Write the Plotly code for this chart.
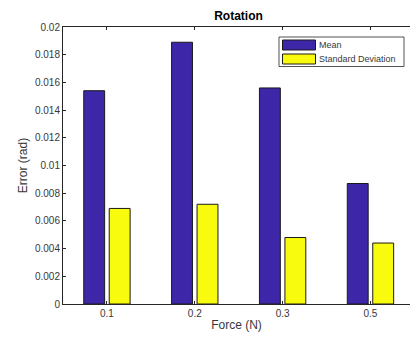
import plotly.graph_objects as go

# Data
forces = ["0.1", "0.2", "0.3", "0.5"]
mean_err = [0.0154, 0.0189, 0.0156, 0.0087]
std_err = [0.0069, 0.0072, 0.0048, 0.0044]
y_ticks = [0, 0.002, 0.004, 0.006, 0.008, 0.01, 0.012, 0.014, 0.016, 0.018, 0.02]
y_tick_text = ["0", "0.002", "0.004", "0.006", "0.008", "0.01", "0.012", "0.014", "0.016", "0.018", "0.02"]
series_names = ["Mean", "Standard Deviation"]

# Style
W, H = 410, 338
ML, MR, MT, MB = 63, 0, 27, 34
MEAN_COLOR = "#3E26A8"
STD_COLOR = "#F9FB0E"
AXIS_COLOR = "#262626"
TEXT_COLOR = "#383838"
FONT = "Liberation Sans, Arial, sans-serif"

fig = go.Figure()
fig.add_trace(go.Bar(x=forces, y=mean_err, name=series_names[0],
                     marker=dict(color=MEAN_COLOR, line=dict(color="#1a1a1a", width=1)),
                     showlegend=False))
fig.add_trace(go.Bar(x=forces, y=std_err, name=series_names[1],
                     marker=dict(color=STD_COLOR, line=dict(color="#1a1a1a", width=1)),
                     showlegend=False))

pw = W - ML - MR
ph = H - MT - MB


def px(xp):
    return (xp - ML) / pw


def py(yp):
    return (H - MB - yp) / ph


# Legend box with wide swatches
shapes = [
    dict(type="rect", xref="paper", yref="paper", x0=px(279), x1=px(404), y0=py(66.5), y1=py(37),
         line=dict(color="#262626", width=0.8), fillcolor="white", layer="above"),
    dict(type="rect", xref="paper", yref="paper", x0=px(282.5), x1=px(315.5), y0=py(50), y1=py(40),
         line=dict(color="#1a1a1a", width=1), fillcolor=MEAN_COLOR, layer="above"),
    dict(type="rect", xref="paper", yref="paper", x0=px(282.5), x1=px(315.5), y0=py(64), y1=py(54),
         line=dict(color="#1a1a1a", width=1), fillcolor=STD_COLOR, layer="above"),
]
annotations = [
    dict(xref="paper", yref="paper", x=px(317), y=py(45), text=series_names[0], showarrow=False,
         xanchor="left", yanchor="middle", font=dict(size=9, color=TEXT_COLOR, family=FONT)),
    dict(xref="paper", yref="paper", x=px(317), y=py(59), text=series_names[1], showarrow=False,
         xanchor="left", yanchor="middle", font=dict(size=9, color=TEXT_COLOR, family=FONT)),
]

fig.update_layout(
    width=W, height=H,
    margin=dict(l=ML, r=MR, t=MT, b=MB),
    paper_bgcolor="white", plot_bgcolor="white",
    font=dict(family=FONT, size=10, color=TEXT_COLOR),
    barmode="group", bargap=0.42, bargroupgap=0.18,
    title=dict(text="<b>Rotation</b>", x=238.5 / W, xanchor="center",
               y=1 - 16 / H, yanchor="middle", font=dict(size=12, color="black", family=FONT)),
    xaxis=dict(type="category", range=[-0.5, 3.45], showline=True, linecolor=AXIS_COLOR,
               linewidth=1, mirror="ticks", ticks="inside", ticklen=3, tickcolor=AXIS_COLOR,
               showgrid=False, zeroline=False,
               title=dict(text="Force (N)", font=dict(size=12, color=TEXT_COLOR), standoff=2)),
    yaxis=dict(range=[0, 0.02], tickvals=y_ticks, ticktext=y_tick_text, showline=True,
               linecolor=AXIS_COLOR, linewidth=1, ticks="inside", ticklen=3, tickcolor=AXIS_COLOR,
               showgrid=False, zeroline=False,
               title=dict(text="Error (rad)", font=dict(size=12, color=TEXT_COLOR), standoff=4)),
    shapes=shapes, annotations=annotations,
)

fig.write_html("out.html")
